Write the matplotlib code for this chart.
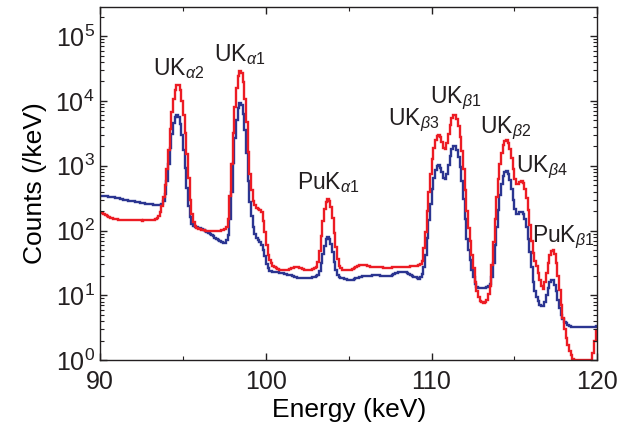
import numpy as np
import matplotlib
matplotlib.use("Agg")
import matplotlib.pyplot as plt
import matplotlib.ticker as ticker

# spectrum, 0.1 keV bins from 90 to 120 keV (one row = 1 keV)
e_lo = 90.0
e_hi = 120.0

red_counts = [
    188, 185, 180, 176, 170, 164, 158, 154, 151, 150,            # 90
    149, 148, 148, 147, 146, 145, 145, 145, 145, 144,            # 91
    144, 145, 145, 144, 143, 142, 143, 144, 145, 145,            # 92
    144, 144, 146, 149, 155, 168, 195, 240, 330, 500,            # 93
    900, 1750, 3700, 6750, 10900, 15000, 17600, 17400, 14500, 10000,  # 94
    6000, 3200, 1500, 650, 300, 180, 135, 118, 110, 106,         # 95
    104, 102, 101, 100, 100, 100, 99, 99, 98, 98,                # 96
    99, 100, 100, 101, 102, 105, 115, 150, 340, 1080,            # 97
    3200, 8050, 15850, 24200, 28850, 26800, 19300, 10900, 4770, 1630,  # 98
    750, 420, 290, 250, 225, 215, 205, 190, 140, 95,             # 99
    60, 42, 35, 31, 28.5, 27, 26, 25.5, 25, 24.5,                # 100
    24.5, 24.5, 24.5, 25, 25.5, 26, 26.5, 27, 27, 27,            # 101
    26.5, 26, 25.5, 25, 24.5, 24.5, 24.5, 25, 25.5, 26,          # 102
    27.5, 33, 49, 83, 140, 213, 279, 310, 289, 228,              # 103
    154, 93, 55, 36, 28, 26, 25, 24.5, 24.5, 24.5,               # 104
    24.5, 25, 25.5, 26.5, 27.5, 28.5, 29, 29.5, 29.5, 29.5,      # 105
    29, 28.5, 28, 27.5, 27, 27, 27, 27, 27, 27,                  # 106
    27, 26.5, 26.5, 26.5, 26.5, 26.5, 27, 27, 27.5, 27.5,        # 107
    27.5, 27.5, 27.5, 27.5, 27.5, 27.5, 27.5, 28, 28, 28,        # 108
    28, 28.5, 29, 30, 34, 53, 96, 200, 400, 740,                 # 109
    1270, 1890, 2490, 2890, 2980, 2740, 2300, 1910, 1825, 2210,  # 110
    3075, 4250, 5390, 6090, 6060, 5330, 4130, 2820, 1690, 892,   # 111
    416, 200, 110, 70, 42, 26, 16, 11.5, 9.3, 8.3,               # 112
    7.8, 7.7, 7.8, 8.5, 10.5, 14, 29, 66, 152, 325,              # 113
    620, 1055, 1580, 2080, 2420, 2490, 2265, 1820, 1315, 890,    # 114
    630, 520, 525, 560, 575, 535, 440, 322, 208, 120,            # 115
    68, 45, 34, 28, 22, 17.5, 14, 12.6, 16, 22,                  # 116
    32, 42, 49, 50, 43, 32, 20, 12, 7.2, 4.5,                    # 117
    3.0, 2.2, 1.7, 1.4, 1.2, 1.05, 1.0, 1.0, 1.0, 1.0,           # 118
    1.0, 1.0, 1.0, 1.0, 1.0, 1.0, 1.0, 1.3, 2.0, 2.9,            # 119
]

blue_counts = [
    341, 340, 339, 338, 336, 333, 331, 329, 326, 323,            # 90
    320, 316, 312, 306, 300, 296, 293, 290, 287, 284,            # 91
    281, 278, 275, 272, 270, 267, 264, 261, 259, 257,            # 92
    255, 253, 250, 248, 246, 245, 250, 258, 285, 370,            # 93
    590, 1050, 1900, 3100, 4500, 5600, 6000, 5600, 4450, 3000,   # 94
    1780, 920, 450, 240, 160, 128, 117, 114, 112, 110,           # 95
    108, 105, 101, 98, 95, 92, 88, 85, 81, 78,                   # 96
    75, 72, 69, 66, 64, 65, 72, 85, 150, 390,                    # 97
    1100, 2650, 5150, 7830, 9300, 8640, 6260, 3550, 1590, 590,   # 98
    280, 170, 115, 90, 78, 72, 66, 60, 50, 40,                   # 99
    30, 26, 24, 23.4, 23, 23, 22.9, 22.8, 22.5, 22.2,            # 100
    21.9, 21.6, 21.2, 20.9, 20.6, 20.3, 19.9, 19.5, 19.1, 18.8,  # 101
    18.5, 18.3, 18.2, 18.2, 18.2, 18.3, 18.5, 18.7, 19, 19.3,    # 102
    19.6, 20.5, 24, 31, 43, 58.5, 73, 79, 75, 62,                # 103
    46, 33, 25, 20.5, 19, 18.4, 18.2, 17.9, 17.6, 17.4,          # 104
    17.3, 17.3, 17.5, 17.8, 18.2, 18.6, 19, 19.5, 19.8, 20,      # 105
    20, 20, 20.1, 20.2, 20.3, 20.4, 20.4, 20.4, 20.3, 20.2,      # 106
    20, 19.8, 19.6, 19.6, 19.8, 20.2, 20.8, 21.4, 21.9, 22.3,    # 107
    22.6, 22.8, 22.9, 22.9, 22.6, 22.1, 21.5, 20.8, 20.1, 19.5,  # 108
    18.9, 18.3, 17.8, 19, 21.5, 27.5, 42, 77, 145, 260,          # 109
    440, 650, 850, 990, 1020, 935, 790, 650, 620, 745,           # 110
    1025, 1410, 1790, 2020, 2015, 1775, 1380, 945, 572, 310,     # 111
    152, 75, 50, 35, 25, 19, 15, 13.5, 13, 12.9,                 # 112
    12.9, 12.9, 13, 13.3, 14, 15, 19.5, 31.5, 59, 115,           # 113
    210, 350, 520, 686, 797, 819, 745, 600, 437, 298,            # 114
    214, 178, 180, 190, 195, 182, 152, 113, 75, 46,              # 115
    27, 16, 11.5, 9.5, 8.2, 7.2, 6.8, 6.9, 7.8, 10,              # 116
    13, 16, 17.5, 17, 14.5, 11.5, 8.5, 6.3, 5.0, 4.3,            # 117
    3.9, 3.7, 3.5, 3.4, 3.3, 3.2, 3.2, 3.2, 3.2, 3.2,            # 118
    3.2, 3.2, 3.2, 3.2, 3.2, 3.2, 3.2, 3.3, 3.3, 3.4,            # 119
]

peak_names = [r"UK$_{\alpha 2}$", r"UK$_{\alpha 1}$", r"PuK$_{\alpha 1}$",
              r"UK$_{\beta 3}$", r"UK$_{\beta 1}$", r"UK$_{\beta 2}$",
              r"UK$_{\beta 4}$", r"PuK$_{\beta 1}$"]
label_x = [93.2, 96.9, 101.85, 107.35, 109.9, 112.9, 115.1, 116.05]
label_y = [2.5e4, 4.1e4, 430, 4300, 9300, 3200, 810, 66]

plt.rcParams["font.family"] = ["Liberation Sans", "DejaVu Sans"]
plt.rcParams["mathtext.fontset"] = "custom"
plt.rcParams["mathtext.rm"] = "Liberation Sans"
plt.rcParams["mathtext.it"] = "Liberation Sans:italic"
plt.rcParams["text.color"] = "#231f20"

edges = np.linspace(e_lo, e_hi, len(red_counts) + 1)

fig = plt.figure(figsize=(6.3, 4.36), dpi=100)
ax = fig.add_axes([0.159, 0.174, 0.789, 0.81])

ax.stairs(blue_counts, edges, color="#2b3591", lw=1.7, baseline=None)
ax.stairs(red_counts, edges, color="#ec1c24", lw=1.7, baseline=None)

ax.set_yscale("log")
ax.set_xlim(90, 120)
ax.set_ylim(1, 10 ** 5.45)

ax.xaxis.set_major_locator(ticker.MultipleLocator(10))
ax.xaxis.set_minor_locator(ticker.MultipleLocator(5))
ax.yaxis.set_major_locator(ticker.LogLocator(base=10, numticks=10))
ax.yaxis.set_minor_locator(ticker.LogLocator(base=10, subs=np.arange(2, 10), numticks=20))
ax.yaxis.set_minor_formatter(ticker.NullFormatter())

ax.tick_params(which="both", direction="in", top=True, right=True,
               colors="#231f20", labelsize=18)
ax.tick_params(which="major", length=5, width=1)
ax.tick_params(which="minor", length=3, width=0.8)
ax.tick_params(axis="x", pad=7)
ax.tick_params(axis="y", pad=4)
for sp in ax.spines.values():
    sp.set_color("#231f20")
    sp.set_linewidth(1.0)

ax.set_xlabel("Energy (keV)", fontsize=19, labelpad=3)
ax.set_ylabel("Counts (/keV)", fontsize=19, labelpad=6)

for name, x, y in zip(peak_names, label_x, label_y):
    ax.text(x, y, name, fontsize=16.5, ha="left", va="baseline")

plt.savefig("out.png", dpi=100)
